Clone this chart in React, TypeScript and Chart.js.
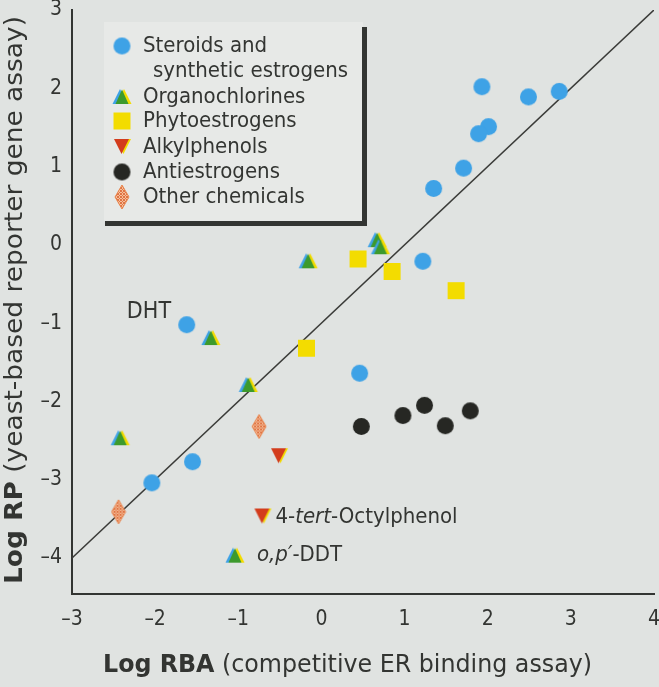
import React, { useEffect, useRef } from "react";
import { Chart, registerables } from "chart.js";
Chart.register(...registerables);

// ---------- data ----------
const xTicks = [-3, -2, -1, 0, 1, 2, 3, 4];
const yTicks = [-4, -3, -2, -1, 0, 1, 2, 3];

const steroidsX = [1.93, 2.49, 2.86, 2.01, 1.89, 1.71, 1.35, 1.22, 0.46, -1.62, -1.55, -2.04];
const steroidsY = [2.02, 1.89, 1.96, 1.51, 1.42, 0.98, 0.72, -0.21, -1.64, -1.02, -2.77, -3.04];

const organoX = [-0.16, -1.33, -0.88, -2.42, 0.67, 0.71];
const organoY = [-0.21, -1.19, -1.79, -2.47, 0.06, -0.03];

const phytoX = [0.44, 0.85, 1.62, -0.18];
const phytoY = [-0.18, -0.34, -0.585, -1.32];

const alkylX = [-0.51];
const alkylY = [-2.7];

const antiX = [0.48, 0.98, 1.24, 1.49, 1.79];
const antiY = [-2.32, -2.18, -2.05, -2.31, -2.12];

const otherX = [-0.75, -2.44];
const otherY = [-2.32, -3.41];

// reference line y = x - 1
const lineX = [-3, 4];
const lineY = [-4, 3];

// annotation markers (key for labelled compounds)
const octylMarkX = [-0.71];
const octylMarkY = [-3.47];
const ddtMarkX = [-1.04];
const ddtMarkY = [-3.97];
const dhtLabelX = -2.34;
const dhtLabelY = -0.86;

const legendLabels = [
  ["Steroids and", "synthetic estrogens"],
  ["Organochlorines"],
  ["Phytoestrogens"],
  ["Alkylphenols"],
  ["Antiestrogens"],
  ["Other chemicals"],
];

const xTitleBold = "Log RBA";
const xTitleRest = " (competitive ER binding assay)";
const yTitleBold = "Log RP";
const yTitleRest = " (yeast-based reporter gene assay)";

// ---------- styling ----------
const FONT = '"Liberation Sans Narrow", "DejaVu Sans Condensed", "Roboto", sans-serif';
const BG = "#e0e3e1";
const INK = "#333532";
const BLUE = "#3ea2e6";
const GREEN = "#3d9a2c";
const YELLOW = "#f3dc00";
const RED = "#d33c1c";
const BLACK = "#262723";

function mk(w: number, h: number) {
  const c = document.createElement("canvas");
  c.width = w;
  c.height = h;
  return c;
}

function tri(ctx: CanvasRenderingContext2D, cx: number, ay: number, by: number, hw: number, color: string) {
  ctx.beginPath();
  ctx.moveTo(cx, ay);
  ctx.lineTo(cx + hw, by);
  ctx.lineTo(cx - hw, by);
  ctx.closePath();
  ctx.fillStyle = color;
  ctx.fill();
}

function makeOrgano() {
  const c = mk(22, 20);
  const ctx = c.getContext("2d")!;
  tri(ctx, 13, 2, 17, 7.5, YELLOW);
  tri(ctx, 9, 2, 17, 7.5, BLUE);
  tri(ctx, 11, 2.5, 17, 6.5, GREEN);
  return c;
}

function makeAlkyl() {
  const c = mk(22, 20);
  const ctx = c.getContext("2d")!;
  tri(ctx, 12.5, 17, 2, 7.5, YELLOW);
  tri(ctx, 10.5, 17, 2, 7.5, RED);
  return c;
}

function diamondPath(ctx: CanvasRenderingContext2D) {
  ctx.beginPath();
  ctx.moveTo(8, 1);
  ctx.lineTo(15, 13);
  ctx.lineTo(8, 25);
  ctx.lineTo(1, 13);
  ctx.closePath();
}

function makeDiamond() {
  const c = mk(16, 26);
  const ctx = c.getContext("2d")!;
  diamondPath(ctx);
  ctx.fillStyle = "#f5c09c";
  ctx.fill();
  ctx.save();
  ctx.clip();
  ctx.strokeStyle = "#e07444";
  ctx.lineWidth = 1;
  for (let k = -30; k < 40; k += 3) {
    ctx.beginPath();
    ctx.moveTo(k, 0);
    ctx.lineTo(k + 26, 26);
    ctx.stroke();
    ctx.beginPath();
    ctx.moveTo(k + 26, 0);
    ctx.lineTo(k, 26);
    ctx.stroke();
  }
  ctx.restore();
  diamondPath(ctx);
  ctx.strokeStyle = "#e8864f";
  ctx.lineWidth = 1;
  ctx.stroke();
  return c;
}

function makeCircle(color: string, r: number) {
  const s = Math.ceil(r * 2 + 2);
  const c = mk(s, s);
  const ctx = c.getContext("2d")!;
  ctx.beginPath();
  ctx.arc(s / 2, s / 2, r, 0, Math.PI * 2);
  ctx.fillStyle = color;
  ctx.fill();
  return c;
}

function makeSquare(color: string, side: number) {
  const s = side + 2;
  const c = mk(s, s);
  const ctx = c.getContext("2d")!;
  ctx.fillStyle = color;
  ctx.fillRect(1, 1, side, side);
  return c;
}

const pts = (xs: number[], ys: number[]) => xs.map((x, i) => ({ x, y: ys[i] }));
const fmt = (v: number) => (v < 0 ? "\u2013" + Math.abs(v) : String(v));

type Run = { t: string; f: string };
function runsWidth(ctx: CanvasRenderingContext2D, runs: Run[]) {
  let w = 0;
  for (const r of runs) {
    ctx.font = r.f;
    w += ctx.measureText(r.t).width;
  }
  return w;
}
function drawRuns(ctx: CanvasRenderingContext2D, runs: Run[], x: number, y: number) {
  let cx = x;
  for (const r of runs) {
    ctx.font = r.f;
    ctx.fillText(r.t, cx, y);
    cx += ctx.measureText(r.t).width;
  }
}

export default function App() {
  const ref = useRef<HTMLCanvasElement | null>(null);

  useEffect(() => {
    document.body.style.margin = "0";
    document.body.style.background = BG;
    const canvas = ref.current!;
    const organo = makeOrgano();
    const alkyl = makeAlkyl();
    const diamond = makeDiamond();
    const blueDot = makeCircle(BLUE, 8.5);
    const blackDot = makeCircle(BLACK, 8.5);
    const square = makeSquare(YELLOW, 17);
    const legendMarks = [blueDot, organo, square, alkyl, blackDot, diamond];

    const paper = {
      id: "paper",
      beforeDraw(chart: any) {
        const { ctx, width, height } = chart;
        ctx.save();
        ctx.fillStyle = BG;
        ctx.fillRect(0, 0, width, height);
        ctx.restore();
      },
      afterDatasetsDraw(chart: any) {
        const { ctx } = chart;
        const xs = chart.scales.x;
        const ys = chart.scales.y;
        ctx.save();
        // legend box (shadowed)
        ctx.fillStyle = "#e7e9e7";
        ctx.fillRect(104, 22, 259, 199);
        ctx.fillStyle = INK;
        ctx.fillRect(362, 27, 5, 199);
        ctx.fillRect(105, 221, 262, 5);
        const rowsY = [46, 97, 121, 147, 172, 197];
        ctx.fillStyle = INK;
        ctx.textBaseline = "middle";
        ctx.textAlign = "left";
        const f = `22px ${FONT}`;
        legendMarks.forEach((m, i) => {
          ctx.drawImage(m, 122 - m.width / 2, rowsY[i] - m.height / 2);
          ctx.font = f;
          ctx.fillText(legendLabels[i][0], 143, rowsY[i]);
          if (legendLabels[i][1]) ctx.fillText(legendLabels[i][1], 153, rowsY[i] + 25);
        });

        // annotations
        ctx.font = `23px ${FONT}`;
        ctx.fillText("DHT", xs.getPixelForValue(dhtLabelX), ys.getPixelForValue(dhtLabelY));
        const af = `22px ${FONT}`;
        const ai = `italic 22px ${FONT}`;
        drawRuns(
          ctx,
          [
            { t: "4-", f: af },
            { t: "tert", f: ai },
            { t: "-Octylphenol", f: af },
          ],
          xs.getPixelForValue(octylMarkX[0]) + 13,
          ys.getPixelForValue(octylMarkY[0]) + 1
        );
        drawRuns(
          ctx,
          [
            { t: "o,p\u2032", f: ai },
            { t: "-DDT", f: af },
          ],
          xs.getPixelForValue(ddtMarkX[0]) + 22,
          ys.getPixelForValue(ddtMarkY[0])
        );

        // axis titles
        ctx.textBaseline = "alphabetic";
        const tb = `bold 24px ${FONT}`;
        const tn = `24px ${FONT}`;
        const xr: Run[] = [
          { t: xTitleBold, f: tb },
          { t: xTitleRest, f: tn },
        ];
        const xw = runsWidth(ctx, xr);
        const xTarget = 489;
        ctx.save();
        ctx.translate(347.5, 672);
        ctx.scale(xTarget / xw, 1);
        drawRuns(ctx, xr, -xw / 2, 0);
        ctx.restore();

        const yr: Run[] = [
          { t: yTitleBold, f: tb },
          { t: yTitleRest, f: tn },
        ];
        const yw = runsWidth(ctx, yr);
        const yTarget = 568;
        ctx.save();
        ctx.translate(22, 300);
        ctx.rotate(-Math.PI / 2);
        ctx.scale(yTarget / yw, 1);
        drawRuns(ctx, yr, -yw / 2, 0);
        ctx.restore();
        ctx.restore();
      },
    };

    const chart = new Chart(canvas, {
      type: "scatter",
      data: {
        datasets: [
          {
            type: "line",
            data: pts(lineX, lineY),
            borderColor: "#3a3b38",
            borderWidth: 1.6,
            pointRadius: 0,
            fill: false,
            order: 10,
          } as any,
          { data: pts(steroidsX, steroidsY), pointStyle: blueDot, order: 1 },
          { data: pts(organoX, organoY), pointStyle: organo, order: 1 },
          { data: pts(phytoX, phytoY), pointStyle: square, order: 1 },
          { data: pts(alkylX, alkylY), pointStyle: alkyl, order: 1 },
          { data: pts(antiX, antiY), pointStyle: blackDot, order: 1 },
          { data: pts(otherX, otherY), pointStyle: diamond, order: 1 },
          { data: pts(octylMarkX, octylMarkY), pointStyle: alkyl, order: 1 },
          { data: pts(ddtMarkX, ddtMarkY), pointStyle: organo, order: 1 },
        ],
      },
      options: {
        animation: false,
        responsive: false,
        events: [],
        layout: { padding: { top: 10, left: 0, right: 4, bottom: 0 } },
        plugins: { legend: { display: false }, tooltip: { enabled: false }, title: { display: false } },
        scales: {
          x: {
            type: "linear",
            min: -3,
            max: 4,
            afterBuildTicks: (s: any) => {
              s.ticks = xTicks.map((v) => ({ value: v }));
            },
            afterFit: (s: any) => {
              s.height = 93;
              s.paddingLeft = 0;
              s.paddingRight = 0;
            },
            grid: { display: false, drawTicks: false },
            border: { display: true, color: INK, width: 2 },
            ticks: {
              padding: 13,
              color: INK,
              font: { family: FONT, size: 21 },
              callback: (v: any) => fmt(Number(v)),
              maxRotation: 0,
            },
          },
          y: {
            type: "linear",
            min: -4.46,
            max: 3,
            afterBuildTicks: (s: any) => {
              s.ticks = yTicks.map((v) => ({ value: v }));
            },
            afterFit: (s: any) => {
              s.width = 72;
              s.paddingTop = 0;
              s.paddingBottom = 0;
            },
            grid: { display: false, drawTicks: false },
            border: { display: true, color: INK, width: 2 },
            ticks: {
              padding: 10,
              color: INK,
              font: { family: FONT, size: 21, lineHeight: 1 },
              callback: (v: any) => fmt(Number(v)),
            },
          },
        },
      },
      plugins: [paper],
    } as any);

    return () => chart.destroy();
  }, []);

  return (
    <div style={{ width: 659, height: 687, background: BG }}>
      <canvas ref={ref} width={659} height={687} style={{ display: "block", width: 659, height: 687 }} />
    </div>
  );
}
